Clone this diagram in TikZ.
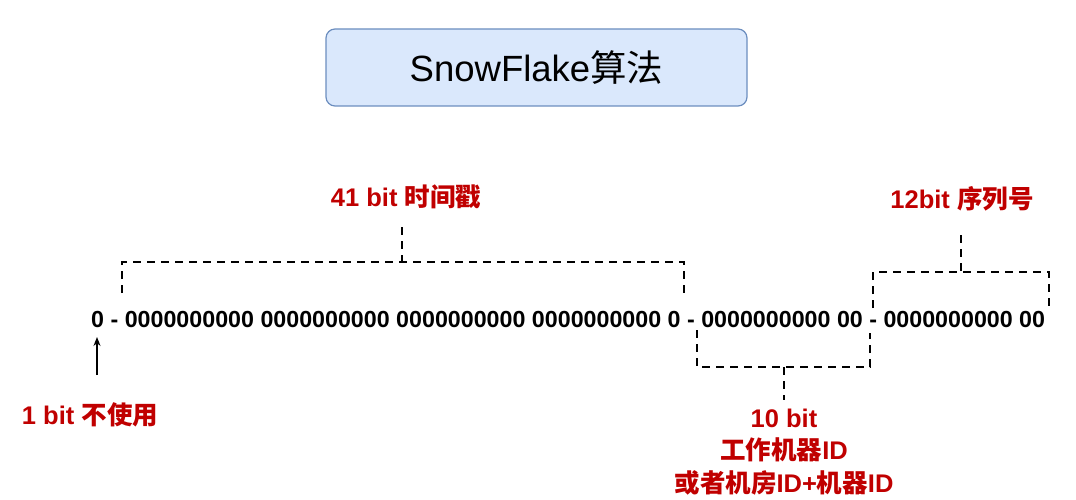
\documentclass[tikz,border=0pt]{standalone}
\usepackage{fontspec}
\setmainfont{Liberation Sans}
\newfontfamily\cjk{Noto Sans CJK SC}
\usetikzlibrary{arrows.meta}
\definecolor{lblred}{RGB}{192,0,0}
\definecolor{titlefill}{RGB}{218,232,252}
\definecolor{titleline}{RGB}{108,142,191}
\begin{document}
\begin{tikzpicture}[x=1pt,y=-1pt,
  bracket/.style={draw=black,line width=2.7pt,dash pattern=on 8pt off 6pt},
  lbl/.style={text=lblred,font=\fontsize{25.5}{32.5}\selectfont\bfseries,inner sep=0pt,align=center},
  bits/.style={font=\fontsize{23.25}{28}\selectfont\bfseries,inner sep=0pt},
  titlebox/.style={draw=titleline,fill=titlefill,line width=1.2pt,rounded corners=9pt,
    minimum width=421pt,minimum height=77pt,font=\fontsize{36.5}{40}\selectfont}]
\useasboundingbox (0,0) rectangle (1076,500);
% title
\node[titlebox] (title) at (536.5,67.5) {SnowFlake{\cjk 算法}};
% bit string
\node[bits,anchor=base west] (bitstr) at (91,327) {0 - 0000000000 0000000000 0000000000 0000000000 0 - 0000000000 00 - 0000000000 00};
% labels
\node[lbl] (t41) at (406,197) {41 bit {\cjk 时间戳}};
\node[lbl] (t12) at (962,199) {12bit {\cjk 序列号}};
\node[lbl] (t1) at (90,415) {1 bit {\cjk 不使用}};
\node[lbl] (t10) at (784,452) {10 bit\\{\cjk 工作机器}ID\\{\cjk 或者机房}ID+{\cjk 机器}ID};
% 41 bit bracket
\coordinate (a1) at (122,293); \coordinate (a2) at (684,297);
\coordinate (am) at (402,262); \coordinate (as) at (402,227);
\draw[bracket] (a1) |- (am) -| (a2);
\draw[bracket] (as) -- (am);
% 10 bit bracket
\coordinate (b1) at (697,330); \coordinate (b2) at (870,333);
\coordinate (bm) at (784,367); \coordinate (bs) at (784,400);
\draw[bracket] (b1) |- (bm) -| (b2);
\draw[bracket] (bm) -- (bs);
% 12 bit bracket
\coordinate (c1) at (873,308); \coordinate (c2) at (1049,307);
\coordinate (cm) at (961,272); \coordinate (cs) at (961,235);
\draw[bracket] (c1) |- (cm) -| (c2);
\draw[bracket] (cs) -- (cm);
% arrow for 1 bit
\coordinate (ar0) at (97,375); \coordinate (ar1) at (97,337);
\draw[-{Stealth[length=9pt,width=7pt]},line width=1.3pt] (ar0) -- (ar1);
\end{tikzpicture}
\end{document}
